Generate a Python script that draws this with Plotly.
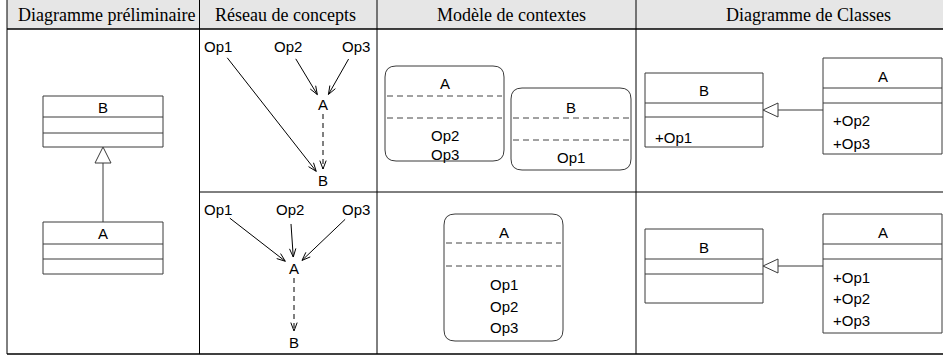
import math
import plotly.graph_objects as go

W, H = 943, 356

# ---------------- data (labels) ----------------
headers = ["Diagramme préliminaire", "Réseau de concepts", "Modèle de contextes", "Diagramme de Classes"]
header_x = [106, 285, 511, 808]

# column / row grid
col_edges = [7, 199.5, 377, 636]
row_sep_y = 192
header_bottom = 29
table_bottom = 354

# Column 1 : preliminary diagram (two classes, A inherits B)
prelim_names = ["B", "A"]
prelim_boxes = [(43, 96, 163, 147, 117, 133), (43, 222, 163, 274, 244, 259)]

# Column 2 : concept networks
net_top_nodes = {"Op1": (218, 46), "Op2": (288, 46), "Op3": (356, 46), "A": (323, 104), "B": (323, 180)}
net_top_edges = [("Op1", "B", "solid"), ("Op2", "A", "solid"), ("Op3", "A", "solid"), ("A", "B", "dash")]
net_bot_nodes = {"Op1": (218, 209), "Op2": (290, 209), "Op3": (356, 209), "A": (294, 268), "B": (294, 342)}
net_bot_edges = [("Op1", "A", "solid"), ("Op2", "A", "solid"), ("Op3", "A", "solid"), ("A", "B", "dash")]

# Column 3 : context models
ctx_names = ["A", "B", "A"]
ctx_ops = [["Op2", "Op3"], ["Op1"], ["Op1", "Op2", "Op3"]]
ctx_boxes = [(385, 66, 504, 161, 96, 118), (511, 88, 631, 170, 118, 140), (444, 214, 563, 341, 243, 266)]
ctx_name_y = [83, 107, 232]
ctx_op_y = [[135, 154], [157], [284, 306, 327]]

# Column 4 : class diagrams
cls_names = ["B", "A", "B", "A"]
cls_ops = [["+Op1"], ["+Op2", "+Op3"], [], ["+Op1", "+Op2", "+Op3"]]
cls_boxes = [(645, 73, 763, 147, 103, 117), (823, 58, 942, 154, 88, 103),
             (645, 229, 763, 303, 259, 274), (823, 214, 942, 333, 244, 259)]
cls_name_y = [90, 76, 247, 232]
cls_op_y = [[137], [120, 143], [], [277, 298, 320]]
cls_links_y = [110, 266]

SANS = "Liberation Sans, Arial, sans-serif"
SERIF = "Liberation Serif, Times New Roman, serif"
BOX = "#3a3a3a"
FS = 15

shapes = []
annotations = []


def line(x0, y0, x1, y1, color="#000", width=1, dash=None):
    ln = dict(color=color, width=width)
    if dash:
        ln["dash"] = dash
    shapes.append(dict(type="line", x0=x0, y0=y0, x1=x1, y1=y1, xref="x", yref="y", line=ln, layer="above"))


def rect(x0, y0, x1, y1, color=BOX, width=1, fill="rgba(0,0,0,0)"):
    shapes.append(dict(type="rect", x0=x0, y0=y0, x1=x1, y1=y1, xref="x", yref="y",
                       line=dict(color=color, width=width), fillcolor=fill, layer="above"))


def rounded(x0, y0, x1, y1, r=11, color=BOX):
    p = (f"M {x0+r},{y0} L {x1-r},{y0} Q {x1},{y0} {x1},{y0+r} L {x1},{y1-r} "
         f"Q {x1},{y1} {x1-r},{y1} L {x0+r},{y1} Q {x0},{y1} {x0},{y1-r} "
         f"L {x0},{y0+r} Q {x0},{y0} {x0+r},{y0} Z")
    shapes.append(dict(type="path", path=p, xref="x", yref="y", line=dict(color=color, width=1), layer="above"))


def text(x, y, s, size=FS, font=SANS, anchor="center", color="#000"):
    annotations.append(dict(x=x, y=y, xref="x", yref="y", text=s, showarrow=False,
                            xanchor=anchor, yanchor="middle", font=dict(family=font, size=size, color=color)))


def vee(tx, ty, ux, uy, length=9, half=0.36, color="#000"):
    for s in (1, -1):
        a = math.atan2(uy, ux) + math.pi + s * half
        line(tx, ty, tx + length * math.cos(a), ty + length * math.sin(a), color=color, width=1)


def hollow_triangle(tx, ty, ux, uy, length=16, halfw=8, color=BOX):
    bx, by = tx - ux * length, ty - uy * length
    px, py = -uy, ux
    p = (f"M {tx},{ty} L {bx+px*halfw},{by+py*halfw} L {bx-px*halfw},{by-py*halfw} Z")
    shapes.append(dict(type="path", path=p, xref="x", yref="y", line=dict(color=color, width=1),
                       fillcolor="white", layer="above"))


# ---------------- table ----------------
rect(col_edges[0], 0, W + 40, header_bottom, color="rgba(0,0,0,0)", width=0, fill="#e6e6e6")
for cx in col_edges:
    line(cx, 0, cx, table_bottom, width=1)
line(col_edges[0], header_bottom, W + 40, header_bottom, width=1.6)
line(col_edges[1], row_sep_y, W + 40, row_sep_y, width=1)
line(col_edges[0], table_bottom, W + 40, table_bottom, width=1.6)
for hx, h in zip(header_x, headers):
    text(hx, 15, h, size=18, font=SERIF)

# ---------------- column 1 ----------------
for name, (x0, y0, x1, y1, l1, l2) in zip(prelim_names, prelim_boxes):
    rect(x0, y0, x1, y1)
    line(x0, l1, x1, l1, color=BOX)
    line(x0, l2, x1, l2, color=BOX)
    text((x0 + x1) / 2, (y0 + l1) / 2 + 0.5, name)
bx0, by0, bx1, by1 = prelim_boxes[0][:4]
ax0, ay0, ax1, ay1 = prelim_boxes[1][:4]
cx = (bx0 + bx1) / 2
line(cx, ay0, cx, by1 + 16, color=BOX)
hollow_triangle(cx, by1, 0, -1)


# ---------------- column 2 ----------------
def network(nodes, edges):
    for name, (x, y) in nodes.items():
        text(x, y, name)
    for s, t, style in edges:
        sx, sy = nodes[s]
        tx, ty = nodes[t]
        dx, dy = tx - sx, ty - sy
        d = math.hypot(dx, dy)
        ux, uy = dx / d, dy / d
        r0 = 15 if s.startswith("Op") else 10
        r1 = 11
        x0, y0 = sx + ux * r0, sy + uy * r0
        x1, y1 = tx - ux * r1, ty - uy * r1
        line(x0, y0, x1, y1, width=1, dash="5px,4px" if style == "dash" else None)
        vee(x1, y1, ux, uy)


network(net_top_nodes, net_top_edges)
network(net_bot_nodes, net_bot_edges)

# ---------------- column 3 ----------------
for name, ops, (x0, y0, x1, y1, l1, l2), ny, oys in zip(ctx_names, ctx_ops, ctx_boxes, ctx_name_y, ctx_op_y):
    rounded(x0, y0, x1, y1)
    line(x0 + 2, l1, x1 - 2, l1, color="#444", dash="6px,4px")
    line(x0 + 2, l2, x1 - 2, l2, color="#444", dash="6px,4px")
    cxm = (x0 + x1) / 2
    text(cxm, ny, name)
    for op, oy in zip(ops, oys):
        text(cxm, oy, op)

# ---------------- column 4 ----------------
for name, ops, (x0, y0, x1, y1, l1, l2), ny, oys in zip(cls_names, cls_ops, cls_boxes, cls_name_y, cls_op_y):
    rect(x0, y0, x1, y1)
    line(x0, l1, x1, l1, color=BOX)
    line(x0, l2, x1, l2, color=BOX)
    text((x0 + x1) / 2, ny, name)
    for op, oy in zip(ops, oys):
        text(x0 + 8, oy, op, anchor="left")
for i, ly in enumerate(cls_links_y):
    b = cls_boxes[2 * i]
    a = cls_boxes[2 * i + 1]
    line(a[0], ly, b[2] + 15, ly, color=BOX)
    hollow_triangle(b[2], ly, -1, 0, length=15, halfw=7)

fig = go.Figure()
fig.update_layout(
    width=W, height=H, margin=dict(l=0, r=0, t=0, b=0, pad=0),
    paper_bgcolor="white", plot_bgcolor="white",
    xaxis=dict(range=[0, W], visible=False, fixedrange=True),
    yaxis=dict(range=[H, 0], visible=False, fixedrange=True),
    shapes=shapes, annotations=annotations, showlegend=False,
)
fig.write_html("out.html", config={"displayModeBar": False, "staticPlot": True},
               post_script="document.body.style.margin='0';document.body.style.overflow='hidden';")
